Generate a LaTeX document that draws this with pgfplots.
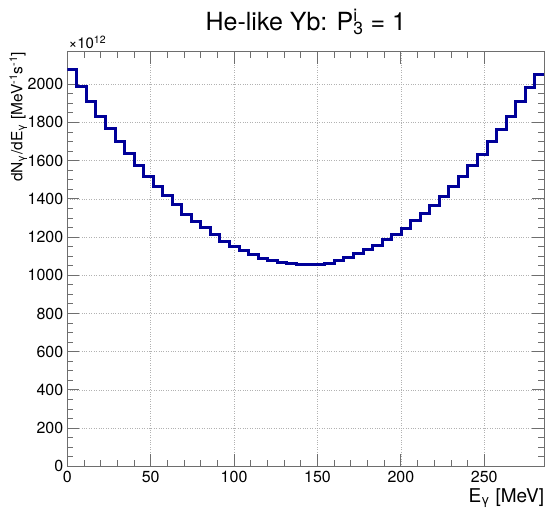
\documentclass[border=0pt]{standalone}
\usepackage{fontspec}
\setmainfont{TeX Gyre Heros}
\usepackage{pgfplots}
\usepackage{pgfplotstable}
\pgfplotsset{compat=1.18}
\definecolor{histblue}{RGB}{0,0,153}
\definecolor{framegray}{RGB}{110,110,110}

% Photon spectrum, lower bin edge [MeV] and content [10^12 MeV^-1 s^-1]
\pgfplotstableread{
x y
0.00 2075
5.72 1990
11.44 1909
17.16 1833
22.88 1767
28.60 1702
34.32 1636
40.04 1573
45.76 1515
51.48 1464
57.20 1415
62.92 1368
68.64 1320
74.36 1279
80.08 1248
85.80 1213
91.52 1177
97.24 1152
102.96 1128
108.68 1109
114.40 1090
120.12 1078
125.84 1069
131.56 1060
137.28 1056
143.00 1056
148.72 1058
154.44 1064
160.16 1077
165.88 1093
171.60 1113
177.32 1135
183.04 1158
188.76 1185
194.48 1214
200.20 1247
205.92 1284
211.64 1325
217.36 1365
223.08 1413
228.80 1464
234.52 1516
240.24 1573
245.96 1634
251.68 1698
257.40 1763
263.12 1831
268.84 1909
274.56 1983
280.28 2050
286.00 2050
}\spectrum

\begin{document}
\begin{tikzpicture}
\useasboundingbox (-67.3pt,-52.7pt) rectangle (480.7pt,466.3pt);
\begin{axis}[
  scale only axis,
  width=477pt, height=414.6pt,
  xmin=0, xmax=286, ymin=0, ymax=2170,
  xtick={0,50,...,250}, minor x tick num=4,
  ytick={0,200,...,2000}, minor y tick num=3,
  tick align=inside,
  xtick pos=both, ytick pos=both,
  major tick length=12pt, minor tick length=6pt,
  scaled ticks=false,
  /pgf/number format/1000 sep={},
  /pgf/number format/assume math mode=true,
  tick label style={font=\fontsize{16}{16}\selectfont},
  xticklabel style={yshift=-1pt},
  yticklabel style={xshift=-0.5pt},
  axis line style={framegray, line width=0.8pt},
  every tick/.style={framegray, line width=0.8pt},
  grid=major,
  major grid style={black!30, dotted, line width=0.6pt},
  clip=true,
]
\addplot[const plot, histblue, line width=3pt] table[x=x, y=y] {\spectrum};
\end{axis}
% titles and labels
\node[anchor=base, font=\fontsize{25}{25}\selectfont] at ([yshift=21.5pt]current axis.north)
  {He-like Yb: P\rlap{\textsuperscript{i}}\textsubscript{3} = 1};
\node[anchor=base west, inner sep=0pt, font=\fontsize{15}{15}\selectfont] at ([xshift=1pt,yshift=3pt]current axis.north west)
  {×10\textsuperscript{12}};
\node[anchor=north east, inner sep=0pt, font=\fontsize{19}{19}\selectfont] at ([yshift=-22pt]current axis.south east)
  {E\textsubscript{γ} [MeV]};
\node[rotate=90, anchor=east, inner sep=0pt, font=\fontsize{15.5}{15.5}\selectfont] at ([xshift=-49pt]current axis.north west)
  {dN\textsubscript{γ}/dE\textsubscript{γ} [MeV\textsuperscript{-1}s\textsuperscript{-1}]};
\end{tikzpicture}
\end{document}
